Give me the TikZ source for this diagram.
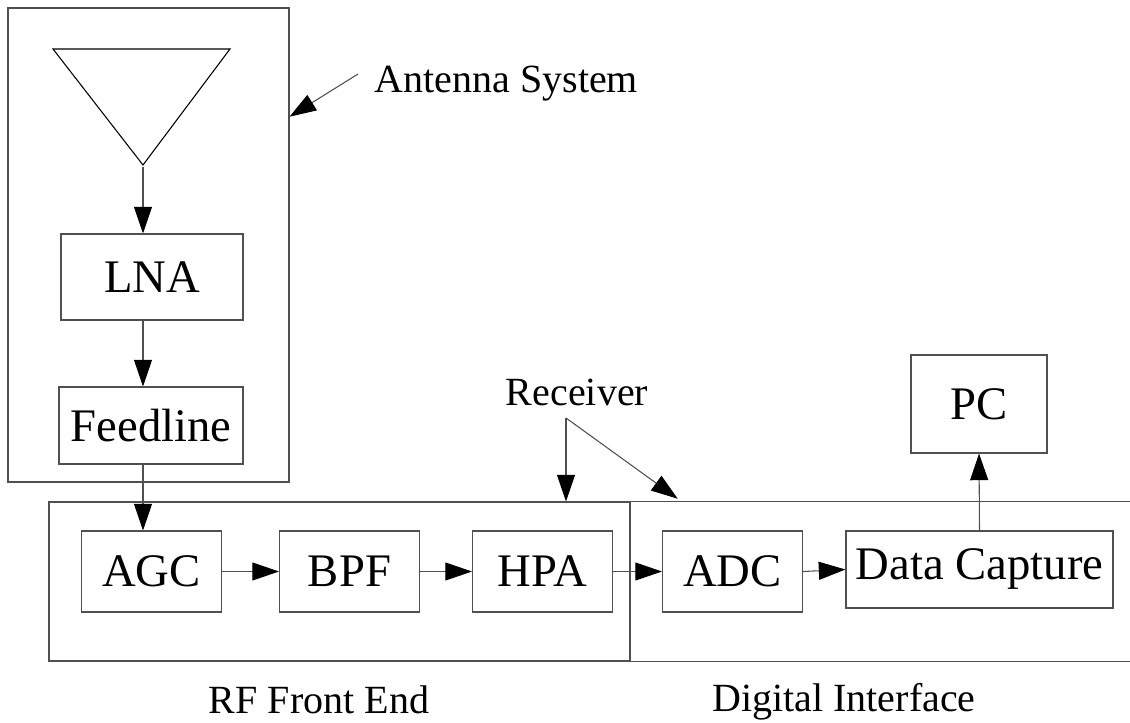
\documentclass[tikz,border=0pt]{standalone}
\usepackage{fontspec}
\setmainfont{Liberation Serif}
\usetikzlibrary{arrows.meta,positioning,fit,calc}
\definecolor{rxline}{HTML}{505050}
\tikzstyle{arrow} = [-{Triangle[length=20pt,width=13.5pt,color=black]}, rxline, line width=0.8pt]
\tikzstyle{blk} = [draw=rxline, line width=0.8pt, inner sep=0pt, font=\fontsize{35}{40}\selectfont]
\tikzstyle{grp} = [draw=rxline, line width=0.8pt, inner sep=0pt]
\tikzstyle{lbl} = [font=\fontsize{30}{34}\selectfont, anchor=base]

\begin{document}
\begin{tikzpicture}[x=0.75pt,y=-0.75pt]
\useasboundingbox (0,0) rectangle (1130,723);
% antenna system
\node[grp, fit={(8,8) (289,482)}] (antsys) {};
\draw[line width=0.8pt] (53,49) -- (230,49) -- (143,165) -- cycle;
\coordinate (apex) at (143,167);
\node[blk, minimum width=136.5pt, minimum height=64.5pt] (lna) at (152,277) {LNA};
\node[blk, minimum width=138pt, minimum height=57.75pt] (feed) at (151,425.5) {Feedline};
\node[lbl, anchor=base west] (antlbl) at (370,93) {Antenna System};
\coordinate (antfrom) at (358,74);

% receiver chain
\node[grp, fit={(49,502) (630,661)}] (rffe) {};
\node[fit={(630,502) (1130,661)}, inner sep=0pt] (digif) {};
\draw[rxline, line width=0.8pt] (digif.north east) -- (digif.north west) -- (digif.south west) -- (digif.south east);
\foreach \x/\name/\txt in {151.5/agc/AGC,349.5/bpf/BPF,542.5/hpa/HPA,732.5/adc/ADC}{
  \node[blk, minimum width=105pt, minimum height=60.75pt] (\name) at (\x,571.5) {\txt};
}
\node[blk, minimum width=200.25pt, minimum height=57.75pt] (dcap) at (979.5,569.5) {Data Capture};
\node[blk, minimum width=102pt, minimum height=73.5pt] (pc) at (979,404) {PC};

\node[lbl] (rxlbl) at (577,405) {Receiver};
\coordinate (rxfork) at (566,418);
\node[lbl] (rflbl) at (319,713) {RF Front End};
\node[lbl] (diglbl) at (844,711) {Digital Interface};

% connectors
\draw[arrow] (apex) -- (apex |- lna.north);
\draw[arrow] (lna.south -| apex) -- (apex |- feed.north);
\draw[arrow] (feed.south -| apex) -- (apex |- agc.north);
\draw[arrow] (agc.east) -- (bpf.west);
\draw[arrow] (bpf.east) -- (hpa.west);
\draw[arrow] (hpa.east) -- (adc.west);
\draw[arrow] (adc.east) -- (dcap.west);
\draw[arrow] (dcap.north) -- (pc.south);
\draw[arrow] (antfrom) -- ($(antsys.north east)!0.23!(antsys.south east)$);
\draw[arrow] (rxfork) -- (rxfork |- rffe.north);
\draw[arrow] (rxfork) -- ($(digif.north west)+(48,-3)$);
\end{tikzpicture}
\end{document}
